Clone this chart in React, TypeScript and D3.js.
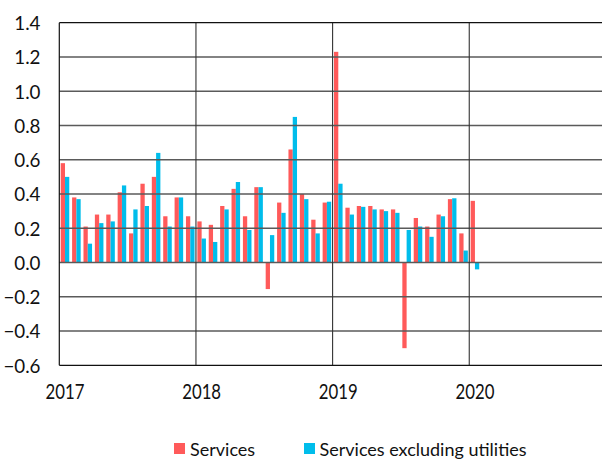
import React from "react";
import * as d3 from "d3";

const years = ["2017", "2018", "2019", "2020"];
const yTicks = [-0.6, -0.4, -0.2, 0.0, 0.2, 0.4, 0.6, 0.8, 1.0, 1.2, 1.4];
const services = [
  0.58, 0.38, 0.21, 0.28, 0.28, 0.41, 0.17, 0.46, 0.5, 0.27, 0.38, 0.27,
  0.24, 0.22, 0.33, 0.43, 0.27, 0.44, -0.155, 0.35, 0.66, 0.4, 0.25, 0.35,
  1.23, 0.32, 0.33, 0.33, 0.31, 0.31, -0.5, 0.26, 0.21, 0.28, 0.37, 0.17,
  0.36,
];
const servicesExUtilities = [
  0.5, 0.37, 0.11, 0.23, 0.24, 0.45, 0.31, 0.33, 0.64, 0.21, 0.38, 0.21,
  0.14, 0.12, 0.31, 0.47, 0.19, 0.44, 0.16, 0.29, 0.85, 0.37, 0.17, 0.355,
  0.46, 0.28, 0.325, 0.31, 0.3, 0.29, 0.19, 0.21, 0.15, 0.27, 0.375, 0.07,
  -0.04,
];
const seriesNames = ["Services", "Services excluding utilities"];
const colors = ["#FF5A5A", "#00BDEB"];

const W = 602;
const H = 459;
const left = 59.3;
const top = 22.7;
const bottom = 365.3;
const yearW = 136.65;
const FONT = "Lato, 'Open Sans', sans-serif";

export default function App() {
  const months = d3.range(years.length * 12);
  const x = d3
    .scaleBand<number>()
    .domain(months)
    .range([left, left + yearW * years.length])
    .padding(0);
  const sub = d3
    .scaleBand<number>()
    .domain([0, 1])
    .range([0, x.step()])
    .paddingInner(0)
    .paddingOuter(0.33);
  const y = d3.scaleLinear().domain([-0.6, 1.4]).range([bottom, top]);
  const right = W + 2;

  const series = [services, servicesExUtilities];

  return (
    <svg
      width={W}
      height={H}
      style={{ position: "absolute", left: 0, top: 0, background: "#fff" }}
      fontFamily={FONT}
    >
      <rect x={0} y={0} width={W} height={H} fill="#fff" />
      {series.map((vals, si) =>
        vals.map((v, i) => (
          <rect
            key={`b${si}-${i}`}
            x={(x(i) as number) + (sub(si) as number)}
            y={Math.min(y(v), y(0))}
            width={sub.bandwidth()}
            height={Math.abs(y(v) - y(0))}
            fill={colors[si]}
          />
        ))
      )}
      {yTicks
        .filter((t) => t > -0.6 && t < 1.4)
        .map((t) => (
          <line
            key={`h${t}`}
            x1={left}
            x2={right}
            y1={y(t)}
            y2={y(t)}
            stroke="#5a5a5a"
            strokeWidth={1.4}
          />
        ))}
      {years.slice(1).map((yr, k) => {
        const xv = x((k + 1) * 12) as number;
        return (
          <line
            key={`v${yr}`}
            x1={xv}
            x2={xv}
            y1={top}
            y2={bottom}
            stroke="#333"
            strokeWidth={1.1}
          />
        );
      })}
      <line x1={left} x2={right} y1={top} y2={top} stroke="#111" strokeWidth={1.2} />
      <line x1={left} x2={right} y1={bottom} y2={bottom} stroke="#111" strokeWidth={1.2} />
      <line x1={left} x2={left} y1={top} y2={bottom} stroke="#111" strokeWidth={1.2} />
      {yTicks.map((t) => (
        <text
          key={`yl${t}`}
          transform={`translate(40.5,${y(t) + 7.3}) scale(0.94,1)`}
          textAnchor="end"
          fontSize={20}
          fill="#111"
        >
          {d3.format(".1f")(t)}
        </text>
      ))}
      {years.map((yr, k) => {
        const xc = (x(k * 12) as number) + x.bandwidth() / 2;
        return (
          <text
            key={`xl${yr}`}
            transform={`translate(${xc},399) scale(0.78,1)`}
            textAnchor="middle"
            fontSize={21.5}
            fill="#111"
          >
            {yr}
          </text>
        );
      })}
      <rect x={174} y={443} width={11} height={11} fill={colors[0]} />
      <text x={190} y={456} fontSize={18} fill="#111">
        {seriesNames[0]}
      </text>
      <rect x={304} y={443} width={11} height={11} fill={colors[1]} />
      <text x={319.5} y={456} fontSize={18} fill="#111">
        {seriesNames[1]}
      </text>
    </svg>
  );
}
